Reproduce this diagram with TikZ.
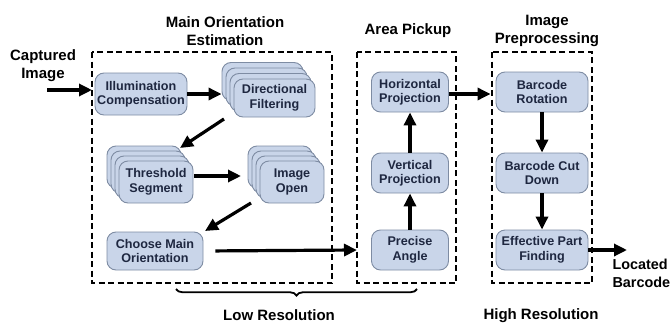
\documentclass[tikz,border=0pt]{standalone}
\usepackage{fontspec}
\setmainfont{Liberation Sans}
\usetikzlibrary{arrows.meta,decorations.pathreplacing,calc}
\definecolor{nfill}{HTML}{C9D5E9}
\definecolor{ndraw}{HTML}{7E8CA3}
\definecolor{ntext}{HTML}{1E2740}
\begin{document}
\begin{tikzpicture}[x=1pt,y=-1pt,
  proc/.style={draw=ndraw,fill=nfill,line width=0.9pt,rounded corners=9pt,
    align=center,inner sep=0pt,text=ntext,
    font=\fontsize{12.6}{14.5}\selectfont\bfseries},
  card/.style={draw=ndraw,fill=nfill,line width=0.9pt,rounded corners=9pt,inner sep=0pt},
  group/.style={draw=black,line width=2.3pt,dash pattern=on 6pt off 3.5pt},
  arr/.style={line width=3.2pt,-{Triangle[length=13pt,width=12pt]}},
  lbl/.style={align=center,font=\fontsize{15}{18}\selectfont\bfseries,text=black}]
\useasboundingbox (0,0) rectangle (671,324);
% group boxes
\draw[group] (92,52) rectangle (332,283);
\draw[group] (357,52) rectangle (456,283);
\draw[group] (492,52) rectangle (592,283);
% titles
\node[lbl] (t1) at (225,31) {Main Orientation\\Estimation};
\node[lbl] (t2) at (408,31) {Area Pickup};
\node[lbl] (t3) at (547,31) {Image\\Preprocessing};
% nodes
\node[proc,minimum width=92pt,minimum height=42pt] (ill) at (141,94) {Illumination\\Compensation};
% directional filtering stack
\foreach \k in {3,2,1}{
  \node[card,minimum width=81pt,minimum height=38pt] (dir\k) at ({274.5-4*\k},{98-5.5*\k}) {};
}
\node[proc,minimum width=81pt,minimum height=38pt] (dir) at (274.5,98) {Directional\\Filtering};
% threshold stack
\foreach \k in {3,2,1}{
  \node[card,minimum width=74pt,minimum height=42pt] (thr\k) at ({156-4*\k},{182-5*\k}) {};
}
\node[proc,minimum width=74pt,minimum height=42pt] (thr) at (156,182) {Threshold\\Segment};
% image open stack
\foreach \k in {3,2,1}{
  \node[card,minimum width=64pt,minimum height=42pt] (iop\k) at ({292-4*\k},{182-5*\k}) {};
}
\node[proc,minimum width=64pt,minimum height=42pt] (iop) at (292,182) {Image\\Open};
\node[proc,minimum width=96pt,minimum height=38pt] (cho) at (155,251) {Choose Main\\Orientation};
\node[proc,minimum width=77pt,minimum height=40pt] (hp) at (410,92) {Horizontal\\Projection};
\node[proc,minimum width=77pt,minimum height=40pt] (vp) at (410,173) {Vertical\\Projection};
\node[proc,minimum width=77pt,minimum height=40pt] (pa) at (410,250) {Precise\\Angle};
\node[proc,minimum width=92pt,minimum height=40pt] (br) at (542,92) {Barcode\\Rotation};
\node[proc,minimum width=92pt,minimum height=40pt] (bc) at (542,173) {Barcode Cut\\Down};
\node[proc,minimum width=92pt,minimum height=40pt] (ep) at (542,250) {Effective Part\\Finding};
% labels
\node[lbl] (cap) at (43,66) {Captured\\Image};
\node[lbl,align=left,anchor=west,font=\fontsize{14.4}{18}\selectfont\bfseries] (loc) at (609,273) {Located\\Barcode};
\node[lbl] (low) at (279,315) {Low Resolution};
\node[lbl] (high) at (541,316) {High Resolution};
% free-end coordinates
\coordinate (cin) at (47,90);
\coordinate (cinE) at (92,90);
\coordinate (d1) at (224,119);
\coordinate (d2) at (180,148);
\coordinate (e1) at (251,203);
\coordinate (e2) at (205,231);
\coordinate (tA) at (194,176);
\coordinate (tB) at (241,176);
\coordinate (pin) at (357,250);
\coordinate (out) at (627,250);
% arrows
\draw[arr] (cin) -- (cinE);
\draw[arr] (ill.east) -- (ill.east -| dir3.west);
\draw[arr] (d1) -- (d2);
\draw[arr] (tA) -- (tB);
\draw[arr] (e1) -- (e2);
\draw[arr,shorten <=12pt] (cho.east) -- (pin);
\draw[arr] (pa.north) -- (vp.south);
\draw[arr] (vp.north) -- (hp.south);
\draw[arr] ($(hp.east)+(0,2)$) -- ($(br.west)+(-5,2)$);
\draw[arr] (br.south) -- (bc.north);
\draw[arr] (bc.south) -- (ep.north);
\draw[arr] (ep.east) -- (out);
% brace
\coordinate (b1) at (176,289);
\coordinate (b2) at (417,289);
\draw[line width=1.8pt,decorate,decoration={brace,mirror,amplitude=6.5pt}] (b1) -- (b2);
\end{tikzpicture}
\end{document}
